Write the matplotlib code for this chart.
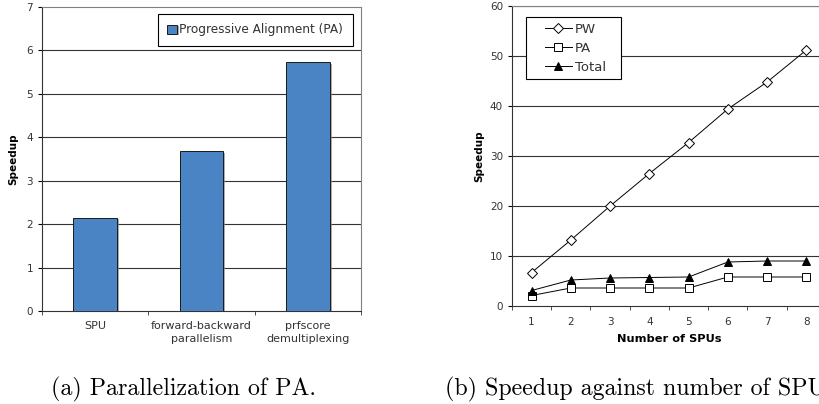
import matplotlib
matplotlib.use("Agg")
import matplotlib.pyplot as plt
import matplotlib.patheffects as pe
from matplotlib.patches import Rectangle
from matplotlib.transforms import IdentityTransform
import numpy as np

# ---- data ----
categories = ["SPU", "forward-backward\nparallelism", "prfscore\ndemultiplexing"]
pa_speedup = [2.15, 3.68, 5.73]

spus = [1, 2, 3, 4, 5, 6, 7, 8]
pw = [6.7, 13.2, 20.0, 26.5, 32.7, 39.4, 44.8, 51.2]
pa = [2.1, 3.6, 3.6, 3.6, 3.6, 5.8, 5.8, 5.8]
total = [3.1, 5.2, 5.6, 5.7, 5.8, 8.8, 9.0, 9.0]

W, H = 820, 404
fig = plt.figure(figsize=(W/100, H/100), dpi=100)
fig.patch.set_facecolor("white")

tick_fs = 7.5
cat_fs = 8
label_color = "#333333"
grid_color = "#333333"

# ---- left chart ----
ax1 = fig.add_axes([42/W, 1-311/H, 319/W, 304/H])
x = np.arange(len(categories))
bars = ax1.bar(x, pa_speedup, width=0.41, color="#4a84c4", edgecolor="#1a1a1a",
               linewidth=0.7, zorder=3, label="Progressive Alignment (PA)")
for b in bars:
    b.set_path_effects([pe.SimplePatchShadow(offset=(1.5, -1.0), shadow_rgbFace="#888888", alpha=0.7),
                        pe.Normal()])
ax1.set_xlim(-0.5, len(categories) - 0.5)
ax1.set_ylim(0, 7)
ax1.set_yticks(range(0, 8))
for yv in range(1, 7):
    ax1.axhline(yv, color=grid_color, lw=0.8, zorder=1)
ax1.set_xticks(x)
ax1.set_xticklabels(categories, fontsize=cat_fs, color=label_color, linespacing=1.35)
ax1.set_xticks(np.arange(-0.5, len(categories)), minor=True)
ax1.tick_params(axis="x", which="major", length=0, pad=7)
ax1.tick_params(axis="x", which="minor", length=3, direction="out", color="#333333")
ax1.tick_params(axis="y", length=3, direction="out", labelsize=tick_fs, labelcolor=label_color)
ax1.set_ylabel("Speedup", fontsize=7.5, fontweight="bold", labelpad=6)
for s in ["top", "right"]:
    ax1.spines[s].set_color("#808080")
    ax1.spines[s].set_linewidth(0.8)
for s in ["left", "bottom"]:
    ax1.spines[s].set_color("#333333")
    ax1.spines[s].set_linewidth(0.8)
leg1 = ax1.legend(loc="upper right", bbox_to_anchor=(0.975, 0.978), fontsize=8.7,
                  frameon=True, fancybox=False, edgecolor="#000000",
                  handlelength=0.8, handleheight=0.8, handletextpad=0.2,
                  borderpad=0.8, borderaxespad=0, labelcolor=label_color,
                  framealpha=1)
leg1.get_frame().set_linewidth(0.8)

# ---- right chart ----
ax2 = fig.add_axes([512/W, 1-306/H, 314/W, 300/H])
ax2.plot(spus, pw, color="black", lw=0.7, marker="D", ms=5, mfc="white",
         mec="black", mew=0.7, label="PW", zorder=3)
ax2.plot(spus, pa, color="black", lw=0.7, marker="s", ms=6, mfc="white",
         mec="black", mew=0.7, label="PA", zorder=3)
ax2.plot(spus, total, color="black", lw=0.7, marker="^", ms=6, mfc="black",
         mec="black", mew=0.7, label="Total", zorder=3)
ax2.set_xlim(0.5, 8.5)
ax2.set_ylim(0, 60)
ax2.set_yticks(range(0, 61, 10))
for yv in range(10, 61, 10):
    ax2.axhline(yv, color=grid_color, lw=0.8, zorder=1)
ax2.set_xticks(spus)
ax2.set_xticks(np.arange(0.5, 9, 1), minor=True)
ax2.tick_params(axis="x", which="major", length=0, pad=8, labelsize=tick_fs, labelcolor=label_color)
ax2.tick_params(axis="x", which="minor", length=3, direction="out", color="#333333")
ax2.tick_params(axis="y", length=3, direction="out", labelsize=tick_fs, labelcolor=label_color)
ax2.set_ylabel("Speedup", fontsize=7.5, fontweight="bold", labelpad=4)
ax2.set_xlabel("Number of SPUs", fontsize=8.2, fontweight="bold", labelpad=5)
for s in ["top", "right"]:
    ax2.spines[s].set_color("#808080")
    ax2.spines[s].set_linewidth(0.8)
for s in ["left", "bottom"]:
    ax2.spines[s].set_color("#333333")
    ax2.spines[s].set_linewidth(0.8)
leg2 = ax2.legend(loc="upper left", bbox_to_anchor=(0.0955, 0.953), fontsize=9.5,
                  frameon=False, handlelength=2.1, handletextpad=0.2,
                  borderpad=0.2, borderaxespad=0, labelspacing=0.45,
                  labelcolor=label_color)
leg2.set_zorder(6)

# box around the right legend with Excel-like asymmetric padding
fig.canvas.draw()
bb = leg2.get_window_extent(fig.canvas.get_renderer())
padL, padR, padT, padB = 16, 12, 3, 3
box = Rectangle((bb.x0 - padL, bb.y0 - padB), bb.width + padL + padR,
                bb.height + padT + padB, transform=IdentityTransform(),
                facecolor="white", edgecolor="black", lw=0.8, zorder=5)
ax2.add_artist(box)

# ---- captions (the second one runs past the right edge, as in the reference) ----
fig.text(51/W, 1-395/H, "(a) Parallelization of PA.", fontsize=17.2,
         family="cmr10", ha="left", va="baseline")
fig.text(445/W, 1-395/H, "(b) Speedup against number of SPUs.", fontsize=17.2,
         family="cmr10", ha="left", va="baseline")

fig.savefig("out.png", dpi=100)
